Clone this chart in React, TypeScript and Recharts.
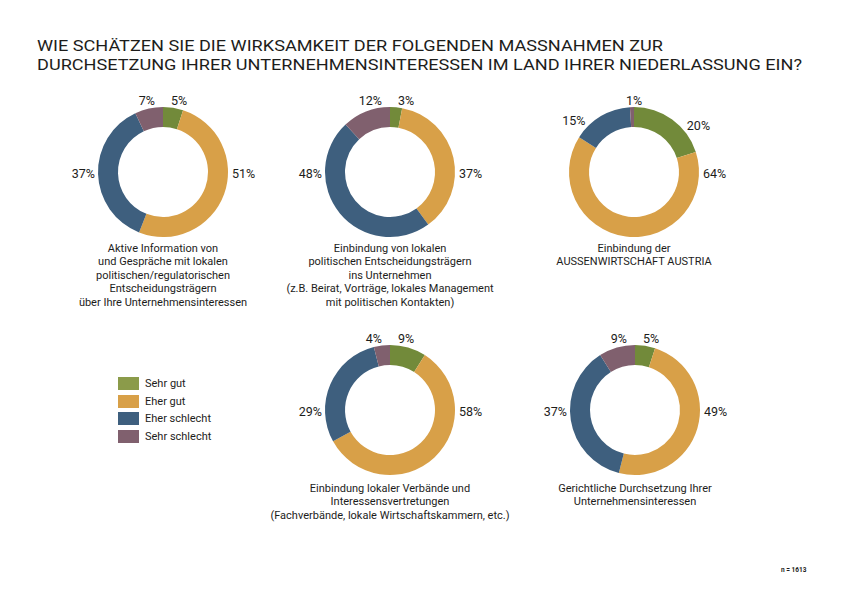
import React from "react";
import { PieChart, Pie, Cell } from "recharts";

const CATEGORIES = ["Sehr gut", "Eher gut", "Eher schlecht", "Sehr schlecht"];

// share of answers per measure, in %, in the order of CATEGORIES
const AKTIVE_INFO = [5, 51, 37, 7];
const EINBINDUNG_POLITIK = [3, 37, 48, 12];
const AUSSENWIRTSCHAFT = [20, 64, 15, 1];
const VERBAENDE = [9, 58, 29, 4];
const GERICHTLICH = [5, 49, 37, 9];

const CAPTIONS = [
  ["Aktive Information von", "und Gespräche mit lokalen", "politischen/regulatorischen", "Entscheidungsträgern", "über Ihre Unternehmensinteressen"],
  ["Einbindung von lokalen", "politischen Entscheidungsträgern", "ins Unternehmen", "(z.B. Beirat, Vorträge, lokales Management", "mit politischen Kontakten)"],
  ["Einbindung der", "AUSSENWIRTSCHAFT AUSTRIA"],
  ["Einbindung lokaler Verbände und", "Interessensvertretungen", "(Fachverbände, lokale Wirtschaftskammern, etc.)"],
  ["Gerichtliche Durchsetzung Ihrer", "Unternehmensinteressen"],
];

const TITLE = [
  "WIE SCHÄTZEN SIE DIE WIRKSAMKEIT DER FOLGENDEN MASSNAHMEN ZUR",
  "DURCHSETZUNG IHRER UNTERNEHMENSINTERESSEN IM LAND IHRER NIEDERLASSUNG EIN?",
];

const SAMPLE = "n = 1613";

const SLICE_COLORS = ["#728a3a", "#d8a048", "#3e5f7e", "#80606e"];
const LEGEND_COLORS = ["#8b9b4a", "#d8a048", "#3e5f7e", "#80606e"];
const TEXT = "#1d1d1b";
const FONT = "Roboto, sans-serif";

const W = 842;
const H = 595;
const INNER = 45;
const OUTER = 65;

const DONUTS = [
  { values: AKTIVE_INFO, cx: 163, cy: 172, caption: CAPTIONS[0], capTop: 242 },
  { values: EINBINDUNG_POLITIK, cx: 390, cy: 172, caption: CAPTIONS[1], capTop: 242 },
  { values: AUSSENWIRTSCHAFT, cx: 634, cy: 172, caption: CAPTIONS[2], capTop: 242 },
  { values: VERBAENDE, cx: 390, cy: 410, caption: CAPTIONS[3], capTop: 482 },
  { values: GERICHTLICH, cx: 635, cy: 410, caption: CAPTIONS[4], capTop: 482 },
];

// label placement: the slice crossing 3 o'clock gets its label on the right,
// the one crossing 9 o'clock on the left, small slices near 12 o'clock sit above
const makeLabel = (values: number[], cx: number, cy: number) => (props: any) => {
  const i = props.index;
  const total = values.reduce((a, b) => a + b, 0);
  const startOf = (k: number) => (values.slice(0, k).reduce((a, b) => a + b, 0) / total) * 360;
  const s = startOf(i);
  const e = s + (values[i] / total) * 360;
  const rightOwner = values.findIndex((v, k) => startOf(k) <= 90 && startOf(k) + (v / total) * 360 >= 90);
  let x = 0;
  let y = 0;
  let anchor: "start" | "end" | "middle" = "start";
  if (s <= 90 && e >= 90) {
    x = cx + OUTER + 4;
    y = cy + 1;
  } else if (s <= 270 && e >= 270 && rightOwner !== i) {
    x = cx - OUTER - 3;
    y = cy + 1;
    anchor = "end";
  } else {
    let m = (s + e) / 2;
    if (m > 180) m -= 360;
    if (Math.abs(m) < 3) {
      x = cx;
      y = cy - 72;
      anchor = "middle";
    } else if (Math.abs(m) < 25) {
      x = cx + Math.sign(m) * 8;
      y = cy - 72;
      anchor = m > 0 ? "start" : "end";
    } else {
      const a = ((m + Math.sign(m) * 15) * Math.PI) / 180;
      x = cx + 68 * Math.sin(a);
      y = cy - 74 * Math.cos(a);
      anchor = m > 0 ? "start" : "end";
    }
  }
  return (
    <text x={x} y={y} textAnchor={anchor} dominantBaseline="central" fontSize={12.5} fill={TEXT} fontFamily={FONT}>
      {`${values[i]}%`}
    </text>
  );
};

export default function App() {
  return (
    <div style={{ position: "absolute", left: 0, top: 0, width: W, height: H, background: "#fff", fontFamily: FONT, color: TEXT }}>
      <svg width={W} height={80} style={{ position: "absolute", left: 0, top: 0 }}>
        <text x={37} y={51} fontSize={15.5} fill={TEXT} fontFamily={FONT} textLength={626} lengthAdjust="spacingAndGlyphs">
          {TITLE[0]}
        </text>
        <text x={37} y={69.5} fontSize={15.5} fill={TEXT} fontFamily={FONT} textLength={765} lengthAdjust="spacingAndGlyphs">
          {TITLE[1]}
        </text>
      </svg>

      <div style={{ position: "absolute", left: 0, top: 0 }}>
        <PieChart width={W} height={H} margin={{ top: 0, right: 0, bottom: 0, left: 0 }}>
          {DONUTS.map((d, k) => (
            <Pie
              key={k}
              data={CATEGORIES.map((name, i) => ({ name, value: d.values[i] }))}
              dataKey="value"
              cx={d.cx}
              cy={d.cy}
              innerRadius={INNER}
              outerRadius={OUTER}
              startAngle={90}
              endAngle={-270}
              stroke="none"
              labelLine={false}
              label={makeLabel(d.values, d.cx, d.cy)}
              isAnimationActive={false}
            >
              {CATEGORIES.map((c, i) => (
                <Cell key={c} fill={SLICE_COLORS[i]} />
              ))}
            </Pie>
          ))}
        </PieChart>
      </div>

      {DONUTS.map((d, k) => (
        <div
          key={k}
          style={{
            position: "absolute",
            left: d.cx - 140,
            width: 280,
            top: d.capTop,
            textAlign: "center",
            fontSize: 11,
            lineHeight: "13.4px",
          }}
        >
          {d.caption.map((line) => (
            <div key={line}>{line}</div>
          ))}
        </div>
      ))}

      <div style={{ position: "absolute", left: 118, top: 375 }}>
        {CATEGORIES.map((c, i) => (
          <div key={c} style={{ display: "flex", alignItems: "center", height: 17.5 }}>
            <span style={{ width: 21, height: 13, background: LEGEND_COLORS[i], display: "inline-block", marginRight: 6 }} />
            <span style={{ fontSize: 11 }}>{c}</span>
          </div>
        ))}
      </div>

      <div style={{ position: "absolute", left: 781, top: 566, fontSize: 6.5, fontWeight: 700 }}>{SAMPLE}</div>
    </div>
  );
}
